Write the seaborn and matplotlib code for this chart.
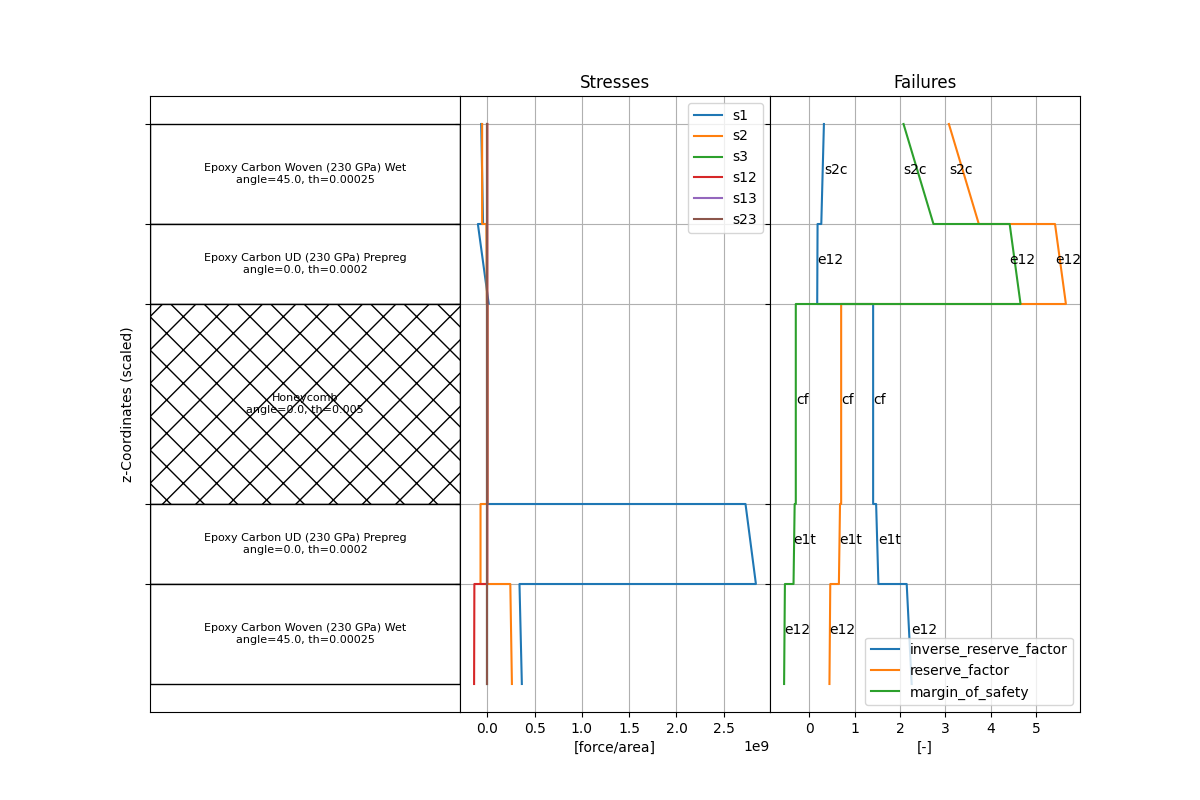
#!/usr/bin/env python3

import numpy as np
import matplotlib
matplotlib.use('Agg')
import matplotlib.pyplot as plt
from matplotlib.patches import Rectangle
import seaborn as sns


# Laminate layup, top to bottom
LAYER_NAMES = ['Epoxy Carbon Woven (230 GPa) Wet', 'Epoxy Carbon UD (230 GPa) Prepreg',
               'Honeycomb', 'Epoxy Carbon UD (230 GPa) Prepreg', 'Epoxy Carbon Woven (230 GPa) Wet']
LAYER_ANGLES = [45.0, 0.0, 0.0, 0.0, 45.0]
LAYER_TH = ['0.00025', '0.0002', '0.005', '0.0002', '0.00025']
LAYER_TH_SCALED = [2.5, 2.0, 5.0, 2.0, 2.5]
LAYER_HATCH = [None, None, 'x', None, None]

# Stresses, two points per layer (top/bottom), top layer first
S1 = [-0.065e9, -0.045e9, -0.100e9, 0.015e9, 0.0, 0.0, 2.73e9, 2.84e9, 0.34e9, 0.365e9]
S2 = [-0.055e9, -0.055e9, -0.010e9, -0.005e9, 0.0, 0.0, -0.072e9, -0.072e9, 0.243e9, 0.26e9]
S3 = [0.0, 0.0, 0.0, 0.0, 0.0, 0.0, 0.0, 0.0, 0.0, 0.0]
S12 = [0.0, 0.0, 0.0, 0.0, 0.0, 0.0, 0.0, 0.0, -0.137e9, -0.14e9]
S13 = [0.0, 0.0, 0.0, 0.0, 0.0, 0.0, 0.0, 0.0, 0.0, 0.0]
S23 = [0.0, 0.0, 0.0, 0.0, 0.0, 0.0, 0.0, 0.0, 0.0, 0.0]

# Failure indices, two points per layer
IRF = [0.325, 0.267, 0.185, 0.177, 1.41, 1.41, 1.476, 1.526, 2.15, 2.26]
RF = [3.08, 3.74, 5.42, 5.66, 0.705, 0.705, 0.68, 0.655, 0.465, 0.447]
MOS = [2.08, 2.74, 4.42, 4.66, -0.295, -0.295, -0.32, -0.345, -0.535, -0.553]
FAILURE_MODES = ['s2c', 'e12', 'cf', 'e1t', 'e12']


def layer_bounds():
    total = sum(LAYER_TH_SCALED)
    edges = np.concatenate([[0.0], np.cumsum(LAYER_TH_SCALED)]) - total / 2
    return edges[:-1], edges[1:]


def main():
    z_start, z_end = layer_bounds()
    z_pts = np.column_stack([z_start, z_end]).ravel()

    fig, axes = plt.subplots(1, 3, sharey=True, figsize=(12, 8), dpi=100)
    plt.subplots_adjust(wspace=0)
    ax0, ax1, ax2 = axes
    colors = sns.color_palette('tab10')

    # Layup
    for i, name in enumerate(LAYER_NAMES):
        rect = Rectangle((0, z_start[i]), 1, LAYER_TH_SCALED[i], facecolor='white',
                         edgecolor='black', hatch=LAYER_HATCH[i])
        ax0.add_patch(rect)
        ax0.text(0.5, (z_start[i] + z_end[i]) / 2,
                 f'{name}\nangle={LAYER_ANGLES[i]}, th={LAYER_TH[i]}',
                 ha='center', va='center', fontsize=8)
    ax0.set_xlim(0, 1)
    ax0.set_xticks([])
    ax0.set_ylabel('z-Coordinates (scaled)')

    # Stresses
    stresses = {'s1': S1, 's2': S2, 's3': S3, 's12': S12, 's13': S13, 's23': S23}
    for k, (name, vals) in enumerate(stresses.items()):
        sns.lineplot(x=vals, y=z_pts, sort=False, estimator=None, color=colors[k],
                     label=name, ax=ax1)
    ax1.set_title('Stresses')
    ax1.set_xlabel('[force/area]')
    ax1.grid(True)
    ax1.legend(loc='upper right')

    # Failures
    failures = {'inverse_reserve_factor': IRF, 'reserve_factor': RF, 'margin_of_safety': MOS}
    for k, (name, vals) in enumerate(failures.items()):
        sns.lineplot(x=vals, y=z_pts, sort=False, estimator=None, color=colors[k],
                     label=name, ax=ax2)
    # failure mode labels at the critical point of each layer
    for i, mode in enumerate(FAILURE_MODES):
        j = 2 * i + int(np.argmax(IRF[2 * i:2 * i + 2]))
        zm = (z_start[i] + z_end[i]) / 2
        for vals in failures.values():
            ax2.text(vals[j], zm, mode)
    ax2.set_title('Failures')
    ax2.set_xlabel('[-]')
    ax2.grid(True)
    ax2.legend(loc='lower right')

    ax0.set_yticks(z_start)
    ax0.set_yticklabels([])
    ax0.invert_yaxis()

    fig.savefig('out.png', dpi=100)


if __name__ == "__main__":
    main()
